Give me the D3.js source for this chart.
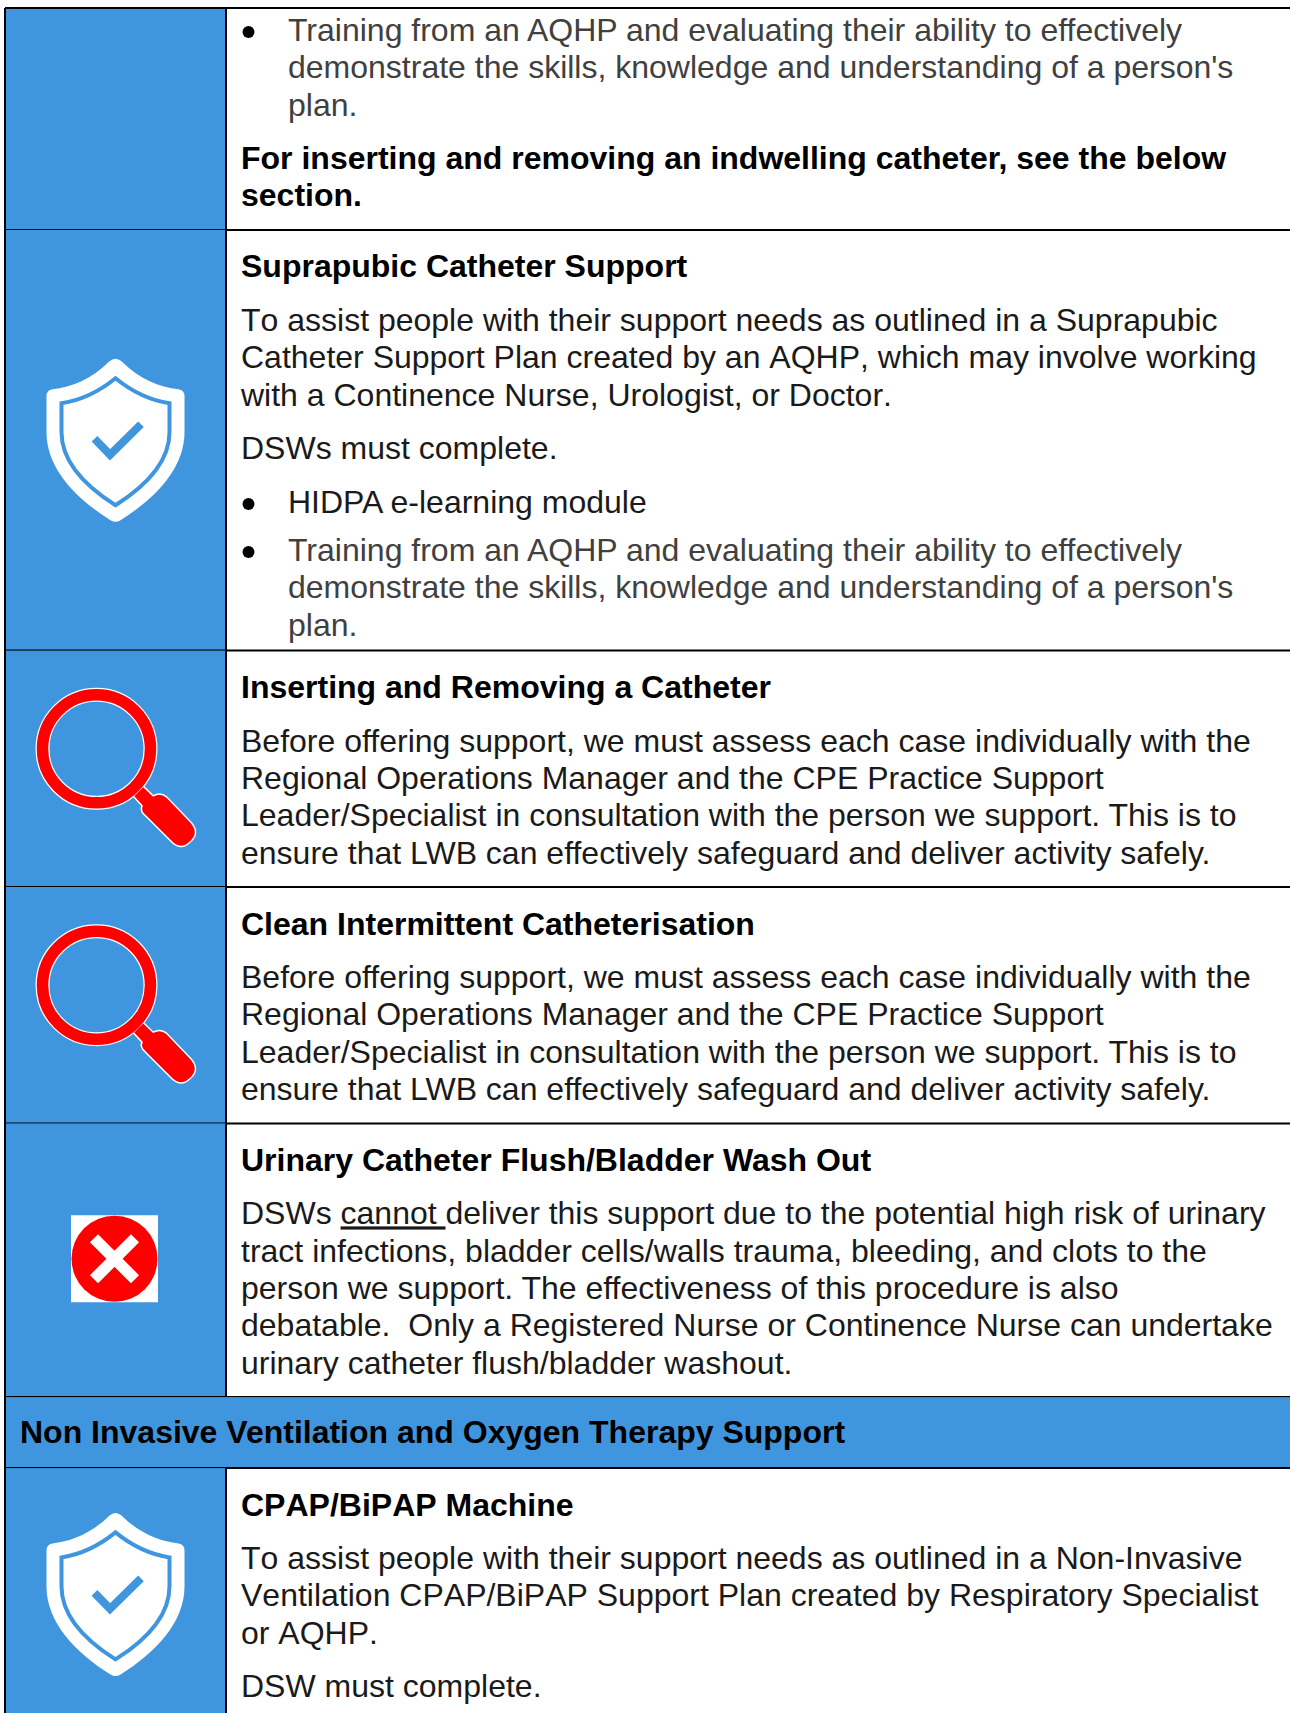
<!DOCTYPE html>
<html>
<head>
<meta charset="utf-8">
<script src="https://cdn.jsdelivr.net/npm/d3@7"></script>
<style>
  html, body { margin: 0; padding: 0; background: #fff; }
  svg { display: block; }
  text { font-family: "Liberation Sans", Arial, sans-serif; font-size: 32px; }
</style>
</head>
<body>
<script>
// table content, one list per row
var trainingLines = [
  ["bullet", "Training from an AQHP and evaluating their ability to effectively", "#404040"],
  ["cont", "demonstrate the skills, knowledge and understanding of a person's", "#404040"],
  ["cont", "plan.", "#404040"]
];
var rowOne = trainingLines.concat([
  ["boldpara", "For inserting and removing an indwelling catheter, see the below"],
  ["boldcont", "section."]
]);
var rowSuprapubic = [
  ["head", "Suprapubic Catheter Support"],
  ["para", "To assist people with their support needs as outlined in a Suprapubic"],
  ["line", "Catheter Support Plan created by an AQHP, which may involve working"],
  ["line", "with a Continence Nurse, Urologist, or Doctor."],
  ["para", "DSWs must complete."],
  ["firstbullet", "HIDPA e-learning module", "#1a1a1a"]
].concat(trainingLines);
var assessLines = [
  ["para", "Before offering support, we must assess each case individually with the"],
  ["line", "Regional Operations Manager and the CPE Practice Support"],
  ["line", "Leader/Specialist in consultation with the person we support. This is to"],
  ["line", "ensure that LWB can effectively safeguard and deliver activity safely."]
];
var rowInserting = [["head", "Inserting and Removing a Catheter"]].concat(assessLines);
var rowClean = [["head", "Clean Intermittent Catheterisation"]].concat(assessLines);
var rowFlush = [
  ["head", "Urinary Catheter Flush/Bladder Wash Out"],
  ["para", "DSWs |cannot |deliver this support due to the potential high risk of urinary"],
  ["line", "tract infections, bladder cells/walls trauma, bleeding, and clots to the"],
  ["line", "person we support. The effectiveness of this procedure is also"],
  ["line", "debatable.  Only a Registered Nurse or Continence Nurse can undertake"],
  ["line", "urinary catheter flush/bladder washout."]
];
var sectionTitle = "Non Invasive Ventilation and Oxygen Therapy Support";
var rowCpap = [
  ["head", "CPAP/BiPAP Machine"],
  ["para", "To assist people with their support needs as outlined in a Non-Invasive"],
  ["line", "Ventilation CPAP/BiPAP Support Plan created by Respiratory Specialist"],
  ["line", "or AQHP."],
  ["para", "DSW must complete."]
];

// these lines are set without pair kerning in the original
var unkerned = [
  "To assist people with their support needs as outlined in a Suprapubic",
  "Catheter Support Plan created by an AQHP, which may involve working",
  "with a Continence Nurse, Urologist, or Doctor.",
  "CPAP/BiPAP Machine",
  "To assist people with their support needs as outlined in a Non-Invasive",
  "Ventilation CPAP/BiPAP Support Plan created by Respiratory Specialist",
  "or AQHP."
];

var rows = [
  { lines: rowOne, icon: null, first: true },
  { lines: rowSuprapubic, icon: "shield", pad: 15 },
  { lines: rowInserting, icon: "search" },
  { lines: rowClean, icon: "search" },
  { lines: rowFlush, icon: "cross" },
  { section: sectionTitle },
  { lines: rowCpap, icon: "shield" }
];

var w = 1290, h = 1713;
var blue = "#3f96de";
var left = 5, divider = 226, tableTop = 8;
var textX = 241, bulletX = 248.5, indentX = 288;

// distance from the previous baseline, by kind of line
var gaps = { bullet: 48, cont: 37.3, boldpara: 53.5, boldcont: 37.3, head: 48, para: 53.5, line: 37.3, firstbullet: 54 };
var firstBaseline = 47.5, rowPadBottom = 23.5, sectionHeight = 71;

var svg = d3.select("body").append("svg").attr("width", w).attr("height", h);

// shield, magnifier and cross, drawn around (0,0)
function drawShield(g) {
  g.append("path")
    .attr("d", "M-6,-79 Q0,-84 6,-79 C24,-61 44,-53 63,-51 Q69,-50 69,-44 L69,-8 C69,28 40,58 5,80 Q0,83 -5,80 C-40,58 -69,28 -69,-8 L-69,-44 Q-69,-50 -63,-51 C-44,-53 -24,-61 -6,-79 Z")
    .attr("fill", "#fff");
  g.append("path")
    .attr("d", "M0,-62 C16,-49 34,-40 54,-37 L54,-8 C54,22 30,46 0,65 C-30,46 -54,22 -54,-8 L-54,-37 C-34,-40 -16,-49 0,-62 Z")
    .attr("fill", "none").attr("stroke", blue).attr("stroke-width", 4);
  g.append("path")
    .attr("d", "M-21,-1.5 L-5.5,14.5 L25.5,-16")
    .attr("fill", "none").attr("stroke", blue).attr("stroke-width", 8);
}
function drawSearch(g) {
  var handle = "M46.7,37.3 L56.7,47 Q64,43 70,48 L94,73 Q104,84 94,93 Q84,103 74,92 L49,67 Q43,62 45.5,57 L36.7,47.3 Z";
  g.append("circle").attr("r", 54).attr("fill", "none").attr("stroke", "#fff").attr("stroke-width", 14);
  g.append("path").attr("d", handle).attr("fill", "#f00").attr("stroke", "#fff").attr("stroke-width", 1.5);
  g.append("circle").attr("r", 54).attr("fill", "none").attr("stroke", "#f00").attr("stroke-width", 11.5);
}
function drawCross(g) {
  g.append("rect").attr("x", -43.5).attr("y", -43.5).attr("width", 87).attr("height", 87).attr("fill", "#fff");
  g.append("circle").attr("r", 43).attr("fill", "#f00");
  g.append("path").attr("d", "M-20.5,-20.5 L20.5,20.5 M20.5,-20.5 L-20.5,20.5").attr("stroke", "#fff").attr("stroke-width", 11.5);
}
var icons = {
  shield: { draw: drawShield, x: 115.5, dy: 0 },
  search: { draw: drawSearch, x: 96.5, dy: -20 },
  cross: { draw: drawCross, x: 114.5, dy: -1.5 }
};

var y = tableTop;
rows.forEach(function(row) {
  var top = y;
  if (row.section) {
    var bottom = top + sectionHeight;
    svg.append("rect").attr("x", left).attr("y", top).attr("width", w - left).attr("height", sectionHeight).attr("fill", blue);
    svg.append("text").attr("x", 20).attr("y", top + 46).attr("font-weight", "bold").attr("fill", "#000").text(row.section);
    svg.append("line").attr("x1", left).attr("x2", w).attr("y1", bottom).attr("y2", bottom).attr("stroke", "#000").attr("stroke-width", 2);
    y = bottom;
    return;
  }
  var base = top + firstBaseline - (row.first ? 14.5 : 0);
  var items = row.lines.map(function(l, i) {
    if (i > 0) base += gaps[l[0]];
    return { kind: l[0], text: l[1], color: l[2] || "#1a1a1a", y: base };
  });
  var bottom = base + (row.pad || rowPadBottom);
  svg.append("rect").attr("x", left).attr("y", top).attr("width", divider - left).attr("height", bottom - top).attr("fill", blue);
  svg.append("line").attr("x1", divider).attr("x2", divider).attr("y1", top).attr("y2", bottom).attr("stroke", "#000").attr("stroke-width", 2);

  var t = svg.append("g").selectAll("text").data(items).enter().append("text")
    .attr("x", function(d) { return d.kind == "bullet" || d.kind == "cont" || d.kind == "firstbullet" ? indentX : textX; })
    .attr("y", function(d) { return d.y; })
    .attr("fill", function(d) { return /head|bold/.test(d.kind) ? "#000" : d.color; })
    .attr("font-weight", function(d) { return /head|bold/.test(d.kind) ? "bold" : "normal"; })
    .style("font-kerning", function(d) { return unkerned.indexOf(d.text) >= 0 ? "none" : "auto"; });
  t.each(function(d) {
    var parts = d.text.split("|");
    var el = d3.select(this).style("white-space", "pre");
    parts.forEach(function(p, i) {
      var s = el.append("tspan").text(p);
      if (i == 1) s.attr("text-decoration", "underline");
    });
  });
  svg.append("g").selectAll("circle").data(items.filter(function(d) { return d.kind == "bullet" || d.kind == "firstbullet"; }))
    .enter().append("circle")
    .attr("cx", bulletX).attr("cy", function(d) { return d.y - 9; }).attr("r", 6).attr("fill", "#000");

  if (row.icon) {
    var ic = icons[row.icon];
    var g = svg.append("g").attr("transform", "translate(" + ic.x + "," + ((top + bottom) / 2 + ic.dy) + ")");
    ic.draw(g);
  }
  if (bottom < h) {
    svg.append("line").attr("x1", left).attr("x2", w).attr("y1", bottom).attr("y2", bottom).attr("stroke", "#000").attr("stroke-width", 2);
  }
  y = bottom;
});

// outer lines of the table
svg.append("line").attr("x1", left).attr("x2", w).attr("y1", tableTop).attr("y2", tableTop).attr("stroke", "#000").attr("stroke-width", 2);
svg.append("line").attr("x1", left).attr("x2", left).attr("y1", tableTop).attr("y2", h).attr("stroke", "#000").attr("stroke-width", 2);
</script>
</body>
</html>
